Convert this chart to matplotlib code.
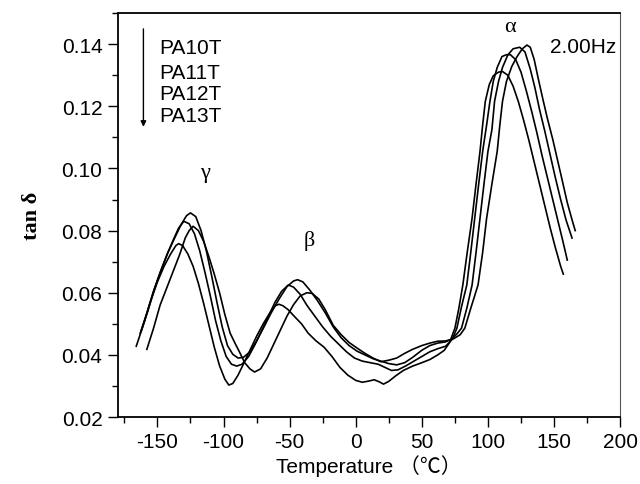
import matplotlib
matplotlib.use("Agg")
import matplotlib.pyplot as plt
from matplotlib.ticker import MultipleLocator, FormatStrFormatter

# tan delta vs temperature, 2.00 Hz, four samples
t_pa10t = [-158, -153, -148, -143, -138, -133, -129, -126, -123, -119, -115, -111, -107, -103,
           -99, -95, -91, -88, -84, -80, -76.5, -72, -67, -62, -57, -52, -47, -42, -37, -33,
           -28, -23, -17, -11, -5, 1, 7, 13, 19, 25, 31, 37, 43, 50, 56, 62, 68, 74, 79, 82.5,
           87, 92.5, 96, 99, 103, 107, 109, 111, 114, 118, 122, 126, 129.5, 132, 135, 138,
           141.7, 145, 149, 153, 156, 160, 163.6, 166]
tan_pa10t = [0.0418, 0.0485, 0.056, 0.0615, 0.067, 0.0725, 0.0776, 0.080, 0.0814, 0.080,
             0.0765, 0.0715, 0.066, 0.060, 0.053, 0.047, 0.0435, 0.041, 0.0375, 0.0355,
             0.0345, 0.0355, 0.039, 0.0435, 0.048, 0.0525, 0.0562, 0.059, 0.060, 0.0598,
             0.058, 0.0545, 0.0495, 0.0465, 0.044, 0.0422, 0.0405, 0.039, 0.0378, 0.0383,
             0.039, 0.0405, 0.0418, 0.043, 0.0438, 0.0444, 0.0445, 0.0452, 0.0465, 0.0486,
             0.055, 0.0625, 0.073, 0.084, 0.095, 0.1055, 0.114, 0.1216, 0.128, 0.1328,
             0.136, 0.1385, 0.1397, 0.139, 0.135, 0.129, 0.122, 0.116, 0.1094, 0.102,
             0.0965, 0.089, 0.0835, 0.080]

t_pa11t = [-162, -157, -152, -147, -142, -137, -132, -128, -125, -121, -117, -113, -109, -105,
           -101, -97, -93, -89, -85, -80, -75, -70, -64, -58, -52, -47, -44, -40, -35, -29,
           -23, -17, -11, -5, 1, 7, 13, 19, 25, 31, 37, 43, 50, 56, 62, 68, 73, 77, 80, 84,
           88, 91, 94, 97, 100, 103, 105, 108, 111, 115, 119, 124, 128, 132, 135.5, 139, 143,
           147, 151, 155, 159, 163.6]
tan_pa11t = [0.048, 0.0545, 0.0615, 0.0675, 0.073, 0.0776, 0.082, 0.0848, 0.0857, 0.0845,
             0.080, 0.0735, 0.0655, 0.057, 0.049, 0.043, 0.0402, 0.039, 0.0392, 0.041,
             0.0445, 0.0485, 0.0535, 0.058, 0.062, 0.0638, 0.0642, 0.0635, 0.061, 0.0575,
             0.0535, 0.049, 0.0455, 0.043, 0.0412, 0.040, 0.0388, 0.038, 0.0372, 0.0368,
             0.0375, 0.0392, 0.0415, 0.043, 0.0438, 0.0442, 0.0452, 0.047, 0.0486, 0.055,
             0.0625, 0.073, 0.084, 0.095, 0.1055, 0.1125, 0.1216, 0.128, 0.1325, 0.1365,
             0.1385, 0.139, 0.1375, 0.132, 0.126, 0.119, 0.112, 0.1045, 0.097, 0.090,
             0.0835, 0.0776]

t_pa12t = [-163, -158, -153, -148, -143, -138, -134, -130, -126, -122, -118, -114, -110, -106,
           -102, -98, -94, -90, -86, -81, -76, -71, -66, -61, -56, -51, -47, -42, -37, -31,
           -25, -19, -13, -7, -1, 5, 11, 17, 22, 27, 32, 38, 44, 50, 56, 62, 68, 73, 76.5,
           80, 84, 87, 90, 93, 96, 99, 101.5, 104, 107, 110.6, 114, 117, 121, 125, 129, 133,
           137, 141, 145, 149, 153, 157, 160]
tan_pa12t = [0.047, 0.0535, 0.0605, 0.0665, 0.072, 0.077, 0.0808, 0.083, 0.0822, 0.079,
             0.0735, 0.0665, 0.059, 0.051, 0.0445, 0.0395, 0.037, 0.0364, 0.037, 0.0395,
             0.0435, 0.048, 0.0525, 0.057, 0.0605, 0.0625, 0.0618, 0.0595, 0.056, 0.0525,
             0.049, 0.046, 0.0435, 0.041, 0.039, 0.038, 0.0375, 0.037, 0.036, 0.035,
             0.0352, 0.0365, 0.038, 0.0395, 0.041, 0.042, 0.0428, 0.045, 0.0486, 0.0555,
             0.0625, 0.073, 0.084, 0.095, 0.1055, 0.114, 0.1216, 0.128, 0.1325, 0.136,
             0.1366, 0.1366, 0.135, 0.131, 0.125, 0.1185, 0.1115, 0.104, 0.097, 0.090,
             0.083, 0.076, 0.0705]

t_pa13t = [-166, -160, -155, -150, -145, -140, -136, -134, -131, -127, -123, -119, -115, -111,
           -107, -103, -99, -96, -93, -89, -85, -80, -75, -70, -65, -61, -58, -55, -51, -46,
           -41, -36, -30, -24, -18, -12, -6, 0, 5, 10, 14, 18, 21, 25, 30, 36, 43, 50, 56,
           62, 67, 71, 75, 78, 81, 84, 88, 91, 94, 96, 98, 101, 104, 108, 111, 115, 119, 123,
           127, 131, 135, 139, 143, 147, 151, 155, 157]
tan_pa13t = [0.0428, 0.0505, 0.0575, 0.0635, 0.0685, 0.0725, 0.0752, 0.0758, 0.0752, 0.0725,
             0.0685, 0.063, 0.0565, 0.0495, 0.0425, 0.0365, 0.0322, 0.0303, 0.0308, 0.0335,
             0.037, 0.0415, 0.046, 0.050, 0.0535, 0.0558, 0.0563, 0.0558, 0.0545, 0.0522,
             0.050, 0.047, 0.0445, 0.0425, 0.0395, 0.036, 0.0335, 0.0318, 0.0312, 0.0316,
             0.032, 0.0313, 0.0306, 0.0315, 0.0332, 0.035, 0.0364, 0.0375, 0.0385, 0.040,
             0.0415, 0.044, 0.0486, 0.055, 0.0625, 0.072, 0.084, 0.095, 0.1055, 0.114,
             0.1216, 0.127, 0.1298, 0.131, 0.1312, 0.130, 0.1265, 0.1215, 0.1155, 0.109,
             0.102, 0.095, 0.088, 0.081, 0.0745, 0.0685, 0.066]

samples = ["PA10T", "PA11T", "PA12T", "PA13T"]
peak_labels = ["\u03b3", "\u03b2", "\u03b1"]

plt.rcParams["font.family"] = ["Liberation Sans", "DejaVu Sans"]
plt.rcParams["axes.unicode_minus"] = False

fig = plt.figure(figsize=(6.4, 4.85), dpi=100)
ax = fig.add_axes([0.184, 0.138, 0.785, 0.833])

for t, v in [(t_pa10t, tan_pa10t), (t_pa11t, tan_pa11t),
             (t_pa12t, tan_pa12t), (t_pa13t, tan_pa13t)]:
    ax.plot(t, v, color="black", lw=1.2)

ax.set_xlim(-180, 200)
ax.set_ylim(0.02, 0.15)
ax.xaxis.set_major_locator(MultipleLocator(50))
ax.xaxis.set_minor_locator(MultipleLocator(25))
ax.set_yticks([0.02, 0.04, 0.06, 0.08, 0.10, 0.12, 0.14])
ax.yaxis.set_minor_locator(MultipleLocator(0.01))
ax.yaxis.set_major_formatter(FormatStrFormatter("%.2f"))
ax.tick_params(which="major", direction="out", length=7, width=1, labelsize=15, pad=4)
ax.tick_params(which="minor", direction="out", length=4, width=1)
ax.tick_params(top=False, right=False, which="both")
for side in ["left", "bottom", "top"]:
    ax.spines[side].set_linewidth(1.3)
ax.spines["right"].set_linewidth(0.8)
ax.spines["right"].set_color("#555555")

ax.set_xlabel("Temperature \uff08\u2103\uff09", fontsize=15, labelpad=2,
              family=["Liberation Sans", "Noto Sans CJK SC"])
ax.set_ylabel("tan \u03b4", fontsize=16, fontweight="bold", family="Liberation Serif",
              labelpad=14)

# sample list with downward arrow
ax.annotate("", xy=(-160.6, 0.1134), xytext=(-160.6, 0.1449),
            arrowprops=dict(arrowstyle="-|>", color="black", lw=1.0,
                            mutation_scale=8, shrinkA=0, shrinkB=0))
for name, y in zip(samples, [0.1388, 0.1308, 0.124, 0.117]):
    ax.text(-148.5, y, name, fontsize=15, va="center", ha="left")

ax.text(197, 0.1394, "2.00Hz", fontsize=15, va="center", ha="right")
for lab, x, y in zip(peak_labels, [-114, -34.8, 116.7], [0.0988, 0.0771, 0.1457]):
    ax.text(x, y, lab, fontsize=16, va="center", ha="center", family="Liberation Serif")

fig.savefig("out.png", dpi=100)
